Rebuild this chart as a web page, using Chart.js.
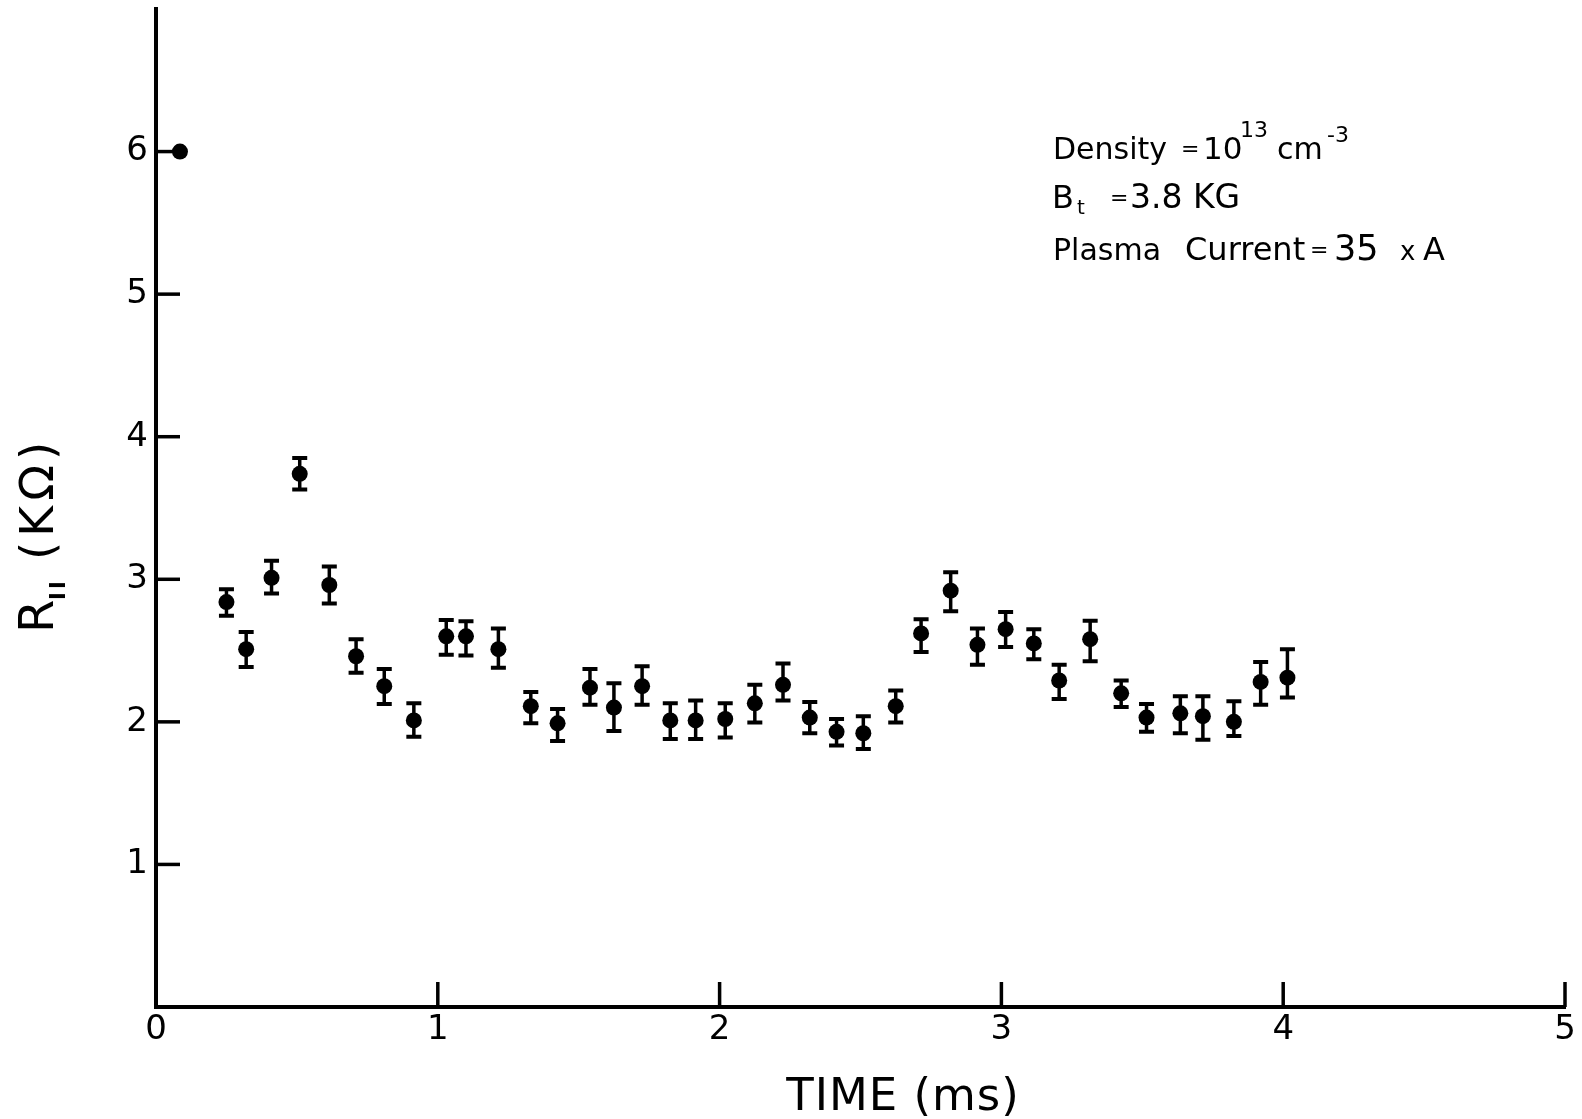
<!DOCTYPE html>
<html>
<head>
<meta charset="utf-8">
<script src="https://cdn.jsdelivr.net/npm/chart.js@4.4.1/dist/chart.umd.min.js"></script>
<style>
  html, body { margin: 0; padding: 0; background: #ffffff; }
  #wrap { width: 1582px; height: 1119px; }
</style>
</head>
<body>
<div id="wrap"><canvas id="c" width="1582" height="1119"></canvas></div>
<script>
// ---- data ----
const timeMs = [0.085, 0.25, 0.32, 0.41, 0.51, 0.615, 0.71, 0.81, 0.915, 1.03, 1.10, 1.215, 1.33, 1.425, 1.54,
  1.625, 1.725, 1.825, 1.915, 2.02, 2.125, 2.225, 2.32, 2.415, 2.51, 2.625, 2.715, 2.82, 2.915, 3.015,
  3.115, 3.205, 3.315, 3.425, 3.515, 3.635, 3.715, 3.825, 3.92, 4.015];
const resistance = [6.0, 2.84, 2.51, 3.01, 3.74, 2.96, 2.46, 2.25, 2.01, 2.60, 2.60, 2.51, 2.11, 1.99, 2.24,
  2.10, 2.25, 2.01, 2.01, 2.02, 2.13, 2.26, 2.03, 1.93, 1.92, 2.11, 2.62, 2.92, 2.54, 2.65,
  2.55, 2.29, 2.58, 2.20, 2.03, 2.06, 2.04, 2.00, 2.28, 2.31];
const errPlus = [0, 0.09, 0.12, 0.12, 0.11, 0.13, 0.12, 0.12, 0.12, 0.115, 0.105, 0.145, 0.10, 0.10, 0.13,
  0.17, 0.14, 0.12, 0.14, 0.11, 0.13, 0.15, 0.11, 0.09, 0.12, 0.11, 0.10, 0.13, 0.115, 0.12,
  0.10, 0.11, 0.13, 0.09, 0.095, 0.12, 0.14, 0.145, 0.14, 0.20];
const errMinus = [0, 0.095, 0.125, 0.11, 0.11, 0.13, 0.115, 0.125, 0.115, 0.13, 0.135, 0.13, 0.12, 0.125, 0.12,
  0.165, 0.13, 0.13, 0.13, 0.13, 0.135, 0.11, 0.11, 0.095, 0.11, 0.115, 0.13, 0.145, 0.14, 0.125,
  0.11, 0.13, 0.155, 0.095, 0.10, 0.14, 0.165, 0.10, 0.16, 0.14];
const xTickValues = [0, 1, 2, 3, 4, 5];
const yTickValues = [1, 2, 3, 4, 5, 6];
const xAxisTitle = 'TIME (ms)';
const yAxisTitleMain = 'R';
const yAxisTitleSub = 'I';
const yAxisTitleUnit = '(KΩ)';

const FONT = "'DejaVu Sans', 'Open Sans', sans-serif";
const INK = '#000000';

const decor = {
  id: 'decor',
  beforeDatasetsDraw(chart) {
    const ctx = chart.ctx, xs = chart.scales.x, ys = chart.scales.y;
    ctx.save();
    ctx.strokeStyle = INK;
    ctx.lineCap = 'butt';
    for (let i = 0; i < timeMs.length; i++) {
      if (!errPlus[i] && !errMinus[i]) continue;
      const px = xs.getPixelForValue(timeMs[i]);
      const top = ys.getPixelForValue(resistance[i] + errPlus[i]);
      const bot = ys.getPixelForValue(resistance[i] - errMinus[i]);
      ctx.lineWidth = 3.5;
      ctx.beginPath(); ctx.moveTo(px, top); ctx.lineTo(px, bot); ctx.stroke();
      ctx.lineWidth = 4;
      ctx.beginPath();
      ctx.moveTo(px - 7.5, top); ctx.lineTo(px + 7.5, top);
      ctx.moveTo(px - 7.5, bot); ctx.lineTo(px + 7.5, bot);
      ctx.stroke();
    }
    ctx.restore();
  },
  afterDraw(chart) {
    const ctx = chart.ctx, xs = chart.scales.x, ys = chart.scales.y;
    const area = chart.chartArea;
    ctx.save();
    ctx.strokeStyle = INK; ctx.fillStyle = INK;
    // inward tick marks
    ctx.lineWidth = 3.5;
    ys.ticks.forEach(t => {
      const py = ys.getPixelForValue(t.value);
      ctx.beginPath(); ctx.moveTo(area.left, py); ctx.lineTo(area.left + 24, py); ctx.stroke();
    });
    xs.ticks.forEach(t => {
      if (t.value === 0) return;
      const px = xs.getPixelForValue(t.value);
      ctx.beginPath(); ctx.moveTo(px, area.bottom); ctx.lineTo(px, area.bottom - 25); ctx.stroke();
    });
    // x axis title
    ctx.textAlign = 'center'; ctx.textBaseline = 'alphabetic';
    ctx.font = '45px ' + FONT;
    ctx.letterSpacing = '1px';
    ctx.fillText(xAxisTitle, 903, 1110);
    ctx.letterSpacing = '0px';
    // y axis title (rotated, reads bottom to top)
    ctx.save();
    ctx.translate(53, 538);
    ctx.rotate(-Math.PI / 2);
    ctx.textAlign = 'left';
    ctx.font = '48px ' + FONT;
    ctx.fillText(yAxisTitleMain, -95, 0);
    ctx.font = 'bold 21px ' + FONT;
    ctx.fillText(yAxisTitleSub, -62, 12);
    ctx.fillText(yAxisTitleSub, -51, 12);
    ctx.font = '47px ' + FONT;
    ctx.letterSpacing = '5px';
    ctx.fillText(yAxisTitleUnit, -22, 0);
    ctx.letterSpacing = '0px';
    ctx.restore();
    // annotation block
    ctx.textAlign = 'left'; ctx.textBaseline = 'alphabetic';
    const seg = (t, x, y, size) => { ctx.font = size + 'px ' + FONT; ctx.fillText(t, x, y); };
    seg('Density', 1053, 159, 30);
    seg('=', 1181, 156, 22);
    seg('10', 1203, 159, 31);
    seg('13', 1240, 137, 22);
    seg('cm', 1277, 159, 30);
    seg('-3', 1327, 142, 22);
    seg('B', 1052, 208, 32);
    seg('t', 1077, 214, 20);
    seg('=', 1110, 205, 22);
    seg('3.8 KG', 1130, 208, 33);
    seg('Plasma', 1053, 260, 30);
    seg('Current', 1185, 260, 32);
    seg('=', 1310, 257, 22);
    seg('35', 1334, 260, 35);
    seg('x', 1400, 260, 26);
    seg('A', 1423, 260, 32);
    ctx.restore();
  }
};

const chart = new Chart(document.getElementById('c'), {
  type: 'scatter',
  data: {
    datasets: [{
      data: timeMs.map((t, i) => ({ x: t, y: resistance[i] })),
      pointRadius: 8,
      pointHoverRadius: 8,
      pointBackgroundColor: INK,
      pointBorderWidth: 0,
      showLine: false
    }]
  },
  options: {
    responsive: false,
    animation: false,
    events: [],
    layout: { padding: { left: 0, right: 17, top: 9, bottom: 0 } },
    plugins: { legend: { display: false }, tooltip: { enabled: false } },
    scales: {
      x: {
        type: 'linear', min: 0, max: 5,
        afterBuildTicks: s => { s.ticks = xTickValues.map(v => ({ value: v })); },
        afterFit: s => { s.height = 112; s.paddingLeft = 0; s.paddingRight = 0; },
        ticks: { color: INK, font: { family: FONT, size: 34 }, padding: 3, maxRotation: 0, autoSkip: false },
        grid: { display: false, drawTicks: false },
        border: { display: true, color: INK, width: 4 }
      },
      y: {
        type: 'linear', min: 0, max: 7,
        afterBuildTicks: s => { s.ticks = yTickValues.map(v => ({ value: v })); },
        afterFit: s => { s.width = 156; s.paddingTop = 0; s.paddingBottom = 0; },
        ticks: { color: INK, font: { family: FONT, size: 34 }, padding: 8, autoSkip: false },
        grid: { display: false, drawTicks: false },
        border: { display: true, color: INK, width: 4 }
      }
    }
  },
  plugins: [decor]
});
</script>
</body>
</html>
